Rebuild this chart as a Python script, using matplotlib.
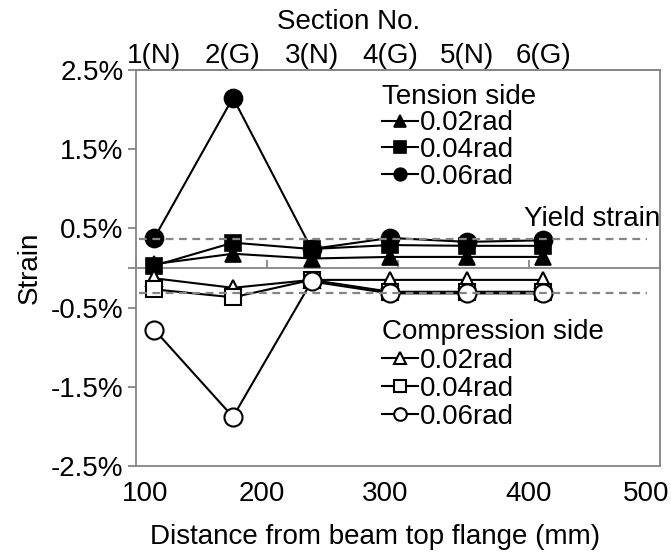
import matplotlib.pyplot as plt
from matplotlib import ticker
from matplotlib.transforms import ScaledTranslation, blended_transform_factory

plt.rcParams['font.family'] = ['Liberation Sans', 'DejaVu Sans']
plt.rcParams['font.size'] = 20

# distance of each gauge section from the beam top flange (mm)
distance = [114, 174, 234, 294, 353, 411]
sections = ['1(N)', '2(G)', '3(N)', '4(G)', '5(N)', '6(G)']
x_ticks = [100, 200, 300, 400, 500]
y_ticks = [-2.5, -1.5, -0.5, 0, 0.5, 1.5, 2.5]
rad_labels = ['0.02rad', '0.04rad', '0.06rad']

# strain in %
tension_002 = [0.05, 0.18, 0.12, 0.14, 0.14, 0.14]
tension_004 = [0.03, 0.32, 0.24, 0.29, 0.28, 0.28]
tension_006 = [0.38, 2.15, 0.24, 0.38, 0.33, 0.35]
compression_002 = [-0.13, -0.25, -0.15, -0.15, -0.15, -0.15]
compression_004 = [-0.27, -0.37, -0.15, -0.30, -0.30, -0.30]
compression_006 = [-0.78, -1.88, -0.17, -0.32, -0.32, -0.32]

yield_pos = 0.37
yield_neg = -0.32

gray = '#858585'

fig = plt.figure(figsize=(6.71, 5.53), dpi=100)
ax = fig.add_axes([0.2027, 0.1573, 0.7809, 0.7161])

markers = ['^', 's', 'o']
sizes = [12, 12, 13]
t_lines = []
for vals, m, ms, lab in zip([tension_002, tension_004, tension_006], markers, sizes, rad_labels):
    ln, = ax.plot(distance, vals, color='black', lw=1.5, marker=m, ms=ms,
                  mfc='black', mec='black', mew=1.2, label=lab, zorder=3)
    t_lines.append(ln)
c_lines = []
for vals, m, ms, lab in zip([compression_002, compression_004, compression_006], markers, sizes, rad_labels):
    ln, = ax.plot(distance, vals, color='black', lw=1.5, marker=m, ms=ms,
                  mfc='white', mec='black', mew=1.5, label=lab, zorder=3)
    c_lines.append(ln)

# yield strain
for yv in [yield_pos, yield_neg]:
    ax.axhline(yv, xmin=0.005, xmax=0.975, color=gray, lw=1.6, ls=(0, (3.5, 2.5)), zorder=5)
ax.text(1.0, 0.62, 'Yield strain', ha='right', va='center',
        transform=blended_transform_factory(ax.transAxes, ax.transData))

ax.set_xlim(100, 500)
ax.set_ylim(-2.5, 2.5)
for sp in ax.spines.values():
    sp.set_color(gray)
    sp.set_linewidth(1.3)

ax.set_yticks(y_ticks)
ax.yaxis.set_major_formatter(ticker.FuncFormatter(lambda v, _: '' if v == 0 else f'{v:.1f}%'))
ax.tick_params(axis='y', direction='out', length=6, width=1.3, color=gray, pad=3)

ax.set_xticks(x_ticks)
ax.tick_params(axis='x', length=0, pad=11)
# Excel-like shifted labels
shifts = [9, -5, -13, 0, -14]
for lbl, dx in zip(ax.get_xticklabels(), shifts):
    lbl.set_transform(lbl.get_transform() + ScaledTranslation(dx / 100, 0, fig.dpi_scale_trans))

# horizontal axis crossing at zero
zero = ax.secondary_xaxis(0.5)
zero.set_xticks(x_ticks)
zero.tick_params(direction='out', length=6, width=1.3, color=gray, labeltop=False, labelbottom=False)
for sp in zero.spines.values():
    sp.set_color(gray)
    sp.set_linewidth(1.3)

# section numbers on top
top = ax.secondary_xaxis('top')
top.set_xticks(distance, labels=sections)
top.tick_params(length=0, pad=1)
top.set_xlabel('Section No.', labelpad=10)
top.xaxis.label.set_x(0.405)
for sp in top.spines.values():
    sp.set_color(gray)
    sp.set_linewidth(1.3)

ax.set_xlabel('Distance from beam top flange (mm)', labelpad=12)
ax.xaxis.label.set_x(0.456)
ax.set_ylabel('Strain', labelpad=6)

leg1 = ax.legend(handles=t_lines, title='Tension side', loc='upper left',
                 bbox_to_anchor=(0.47, 0.965), frameon=False, alignment='left',
                 handlelength=1.3, handletextpad=0.05, labelspacing=0.02,
                 borderpad=0, borderaxespad=0, markerscale=0.7, title_fontsize=20)
ax.add_artist(leg1)
ax.legend(handles=c_lines, title='Compression side', loc='upper left',
          bbox_to_anchor=(0.47, 0.37), frameon=False, alignment='left',
          handlelength=1.3, handletextpad=0.05, labelspacing=0.08,
          borderpad=0, borderaxespad=0, markerscale=0.7, title_fontsize=20)

fig.savefig('out.png', dpi=100)
